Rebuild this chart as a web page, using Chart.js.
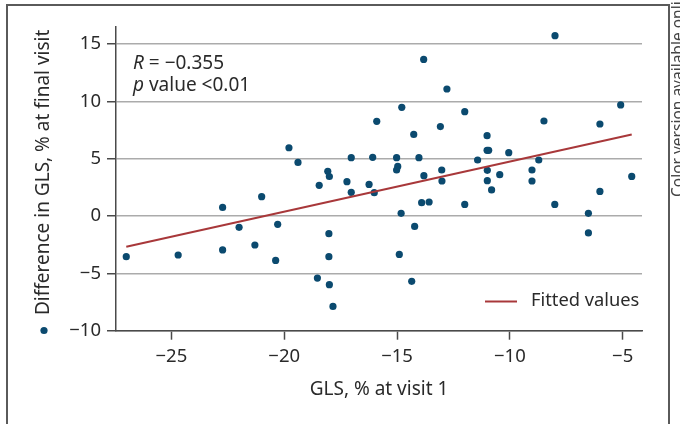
<!DOCTYPE html>
<html>
<head>
<meta charset="utf-8">
<script src="https://cdn.jsdelivr.net/npm/chart.js@4.4.1/dist/chart.umd.min.js"></script>
<style>
  html, body { margin: 0; padding: 0; background: #fff; }
  canvas { display: block; }
</style>
</head>
<body>
<canvas id="chart" width="680" height="424"></canvas>
<script>
// GLS at visit 1 (x) and difference in GLS at final visit (y)
const glsVisit1 = [-27.0, -24.7, -22.73, -22.73, -22.0, -21.3, -21.0, -20.38, -20.29, -19.79,
  -19.39, -18.53, -18.45, -18.07, -18.0, -18.02, -18.02, -18.0, -17.84, -17.22,
  -17.03, -17.03, -16.24, -16.08, -16.01, -15.9, -15.02, -14.97, -15.02, -14.9,
  -14.82, -14.79, -14.35, -14.26, -14.22, -14.03, -13.91, -13.82, -13.81, -13.58,
  -13.08, -13.02, -13.01, -12.79, -12.0, -12.0, -11.43, -11.01, -11.01, -10.94,
  -11.0, -11.0, -10.81, -10.45, -10.05, -9.02, -9.02, -8.72, -8.49, -8.0,
  -8.01, -6.52, -6.52, -6.01, -6.01, -5.09, -4.6];
const glsDifference = [-3.55, -3.4, 0.75, -2.96, -0.99, -2.53, 1.68, -3.87, -0.73, 5.95,
  4.67, -5.41, 2.67, 3.89, 3.44, -1.54, -3.55, -5.99, -7.88, 2.99,
  5.08, 2.06, 2.75, 5.11, 2.03, 8.25, 5.08, 4.32, 4.01, -3.35,
  0.23, 9.47, -5.7, 7.11, -0.91, 5.08, 1.16, 13.65, 3.51, 1.22,
  7.79, 4.01, 3.05, 11.07, 9.09, 1.01, 4.88, 7.0, 5.72, 5.72,
  3.98, 3.08, 2.27, 3.6, 5.52, 4.01, 3.05, 4.88, 8.28, 15.72,
  1.01, 0.23, -1.48, 8.02, 2.14, 9.68, 3.45];

// ends of the fitted line
const fitX = [-27.0, -4.6];
const fitY = [-2.68, 7.11];

const xTicks = [-25, -20, -15, -10, -5];
const yTicks = [-10, -5, 0, 5, 10, 15];

const fontFamily = '"Noto Sans", "Open Sans", sans-serif';
const textColor = '#2a2a2a';
const axisColor = '#4a4a4a';
const dotColor = '#0b4a6f';
const fitColor = '#a8383a';

const fmt = v => String(v).replace('-', '\u2212');

// frame, annotation, legend and the y title (which carries the scatter marker)
const decorations = {
  id: 'decorations',
  beforeDraw(chart) {
    const ctx = chart.ctx;
    ctx.save();
    ctx.fillStyle = '#fff';
    ctx.fillRect(0, 0, chart.width, chart.height);
    ctx.strokeStyle = '#5a5a5a';
    ctx.lineWidth = 2;
    ctx.strokeRect(7, 5, 662, 460);
    ctx.restore();
  },
  afterDraw(chart) {
    const ctx = chart.ctx;
    ctx.save();
    ctx.fillStyle = textColor;
    ctx.textAlign = 'left';
    ctx.textBaseline = 'alphabetic';

    ctx.font = 'italic 19px ' + fontFamily;
    ctx.fillText('R', 133, 68.5);
    let w = ctx.measureText('R').width;
    ctx.font = '19px ' + fontFamily;
    ctx.fillText(' = \u22120.355', 133 + w, 68.5);

    ctx.font = 'italic 19px ' + fontFamily;
    ctx.fillText('p', 133, 90.5);
    w = ctx.measureText('p').width;
    ctx.font = '19px ' + fontFamily;
    ctx.fillText(' value <0.01', 133 + w, 90.5);

    // legend for the fitted line
    ctx.strokeStyle = fitColor;
    ctx.lineWidth = 2;
    ctx.beginPath();
    ctx.moveTo(485, 301.5);
    ctx.lineTo(517, 301.5);
    ctx.stroke();
    ctx.textBaseline = 'middle';
    ctx.font = '18.3px ' + fontFamily;
    ctx.fillText('Fitted values', 531, 301);

    // scatter legend marker + rotated label
    ctx.fillStyle = dotColor;
    ctx.beginPath();
    ctx.arc(44, 330.5, 3.6, 0, Math.PI * 2);
    ctx.fill();
    ctx.save();
    ctx.fillStyle = textColor;
    ctx.font = '19px ' + fontFamily;
    ctx.translate(44, 315);
    ctx.rotate(-Math.PI / 2);
    ctx.textBaseline = 'middle';
    ctx.fillText('Difference in GLS, % at final visit', 0, 0);
    ctx.restore();

    // note cut off at the right edge
    ctx.save();
    ctx.fillStyle = '#444';
    ctx.font = '15.5px ' + fontFamily;
    ctx.translate(683, 197);
    ctx.rotate(-Math.PI / 2);
    ctx.textBaseline = 'alphabetic';
    ctx.fillText('Color version available online', 0, 0);
    ctx.restore();

    ctx.restore();
  }
};

const scatterData = glsVisit1.map((x, i) => ({ x: x, y: glsDifference[i] }));
const fitData = fitX.map((x, i) => ({ x: x, y: fitY[i] }));

new Chart(document.getElementById('chart'), {
  type: 'scatter',
  data: {
    datasets: [
      {
        label: 'Difference in GLS, % at final visit',
        data: scatterData,
        backgroundColor: dotColor,
        borderWidth: 0,
        pointRadius: 3.6,
        order: 2
      },
      {
        type: 'line',
        label: 'Fitted values',
        data: fitData,
        borderColor: fitColor,
        borderWidth: 2,
        pointRadius: 0,
        fill: false,
        order: 1
      }
    ]
  },
  options: {
    responsive: false,
    animation: false,
    layout: { padding: { left: 0, right: 38, top: 26.7, bottom: 0 } },
    plugins: {
      legend: { display: false },
      tooltip: { enabled: false }
    },
    scales: {
      x: {
        type: 'linear',
        min: -27.455,
        max: -4.145,
        afterFit: s => { s.height = 93.3; },
        afterBuildTicks: s => { s.ticks = xTicks.map(v => ({ value: v })); },
        grid: {
          drawOnChartArea: false,
          drawTicks: true,
          tickLength: 9,
          tickColor: axisColor,
          tickWidth: 1.5
        },
        border: { display: true, color: axisColor, width: 1.5 },
        ticks: {
          color: textColor,
          padding: 6,
          maxRotation: 0,
          font: { family: fontFamily, size: 18.5 },
          callback: v => fmt(v)
        },
        title: {
          display: true,
          text: 'GLS, % at visit 1',
          color: textColor,
          font: { family: fontFamily, size: 19 },
          padding: { top: 0, bottom: 22.6 }
        }
      },
      y: {
        type: 'linear',
        min: -10,
        max: 16.5,
        afterFit: s => { s.width = 116; },
        afterBuildTicks: s => { s.ticks = yTicks.map(v => ({ value: v })); },
        grid: {
          color: '#ababab',
          lineWidth: 1.5,
          drawTicks: true,
          tickLength: 9,
          tickColor: axisColor,
          tickWidth: 1.5
        },
        border: { display: true, color: axisColor, width: 1.5 },
        ticks: {
          color: textColor,
          padding: 6,
          font: { family: fontFamily, size: 18.5 },
          callback: v => fmt(v)
        }
      }
    }
  },
  plugins: [decorations]
});
</script>
</body>
</html>
